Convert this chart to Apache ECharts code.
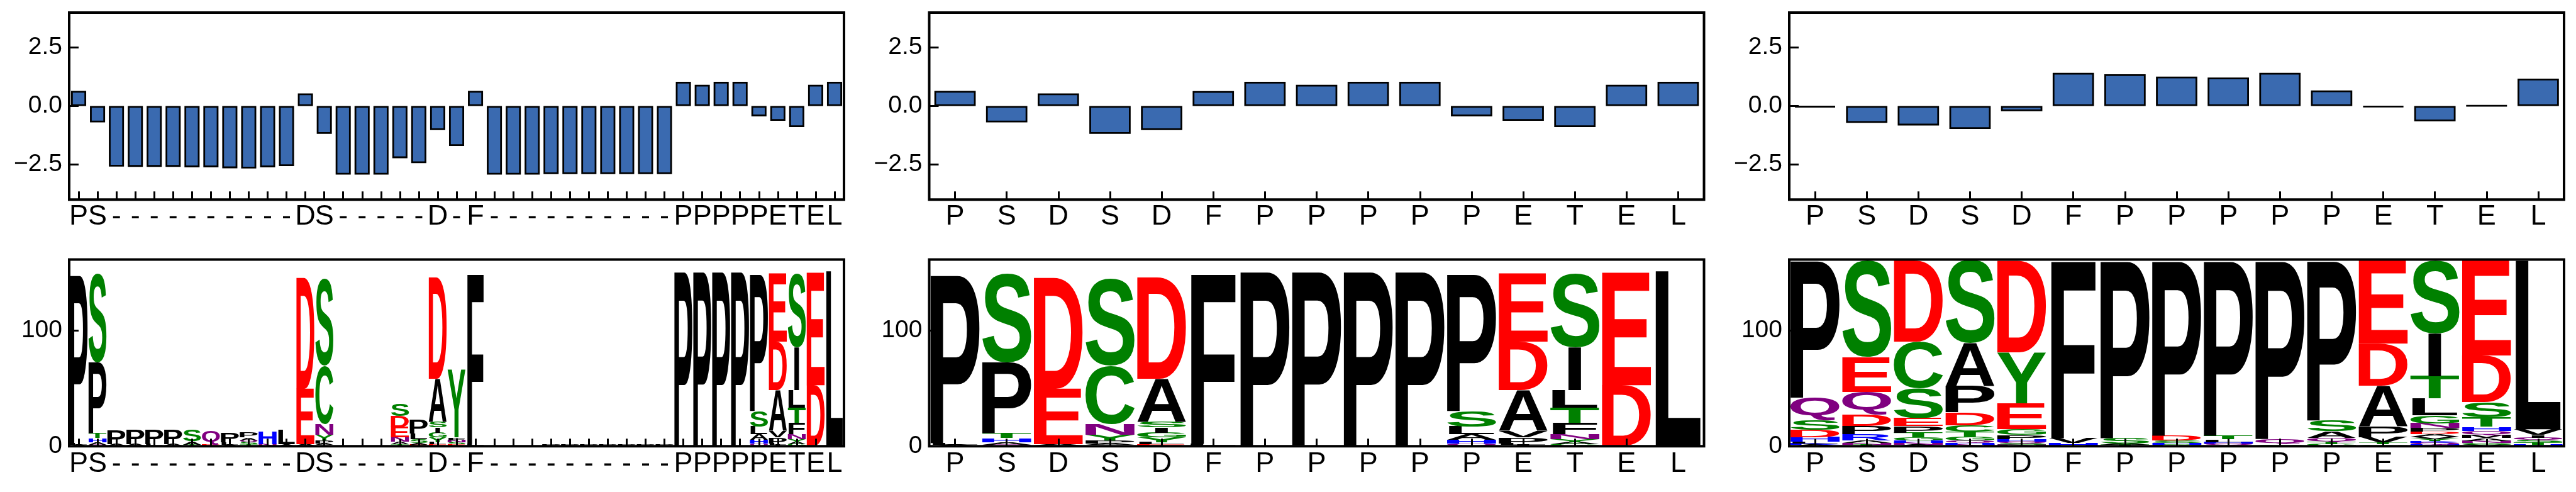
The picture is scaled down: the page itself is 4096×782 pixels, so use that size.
<!DOCTYPE html>
<html><head><meta charset="utf-8">
<script src="https://cdn.jsdelivr.net/npm/echarts@6/dist/echarts.min.js"></script>
<style>html,body{margin:0;padding:0;background:#fff;overflow:hidden}#c{width:4096px;height:782px}</style>
</head><body><div id="c"></div>
<script>
// ---------------- data ----------------
const catsA = ['P','S','-','-','-','-','-','-','-','-','-','-','D','S','-','-','-','-','-','D','-','F','-','-','-','-','-','-','-','-','-','-','P','P','P','P','P','E','T','E','L'];
const catsB = ['P','S','D','S','D','F','P','P','P','P','P','E','T','E','L'];
const catsC = ['P','S','D','S','D','F','P','P','P','P','P','E','T','E','L'];

const barsA = [0.65,-0.70,-2.59,-2.60,-2.60,-2.60,-2.62,-2.62,-2.66,-2.67,-2.62,-2.57,0.54,-1.19,-2.93,-2.93,-2.93,-2.23,-2.44,-1.03,-1.71,0.65,-2.93,-2.93,-2.93,-2.91,-2.91,-2.91,-2.91,-2.91,-2.91,-2.91,1.04,0.91,1.04,1.04,-0.44,-0.63,-0.90,0.91,1.04];
const barsB = [0.65,-0.70,0.54,-1.19,-1.03,0.64,1.04,0.91,1.04,1.04,-0.44,-0.63,-0.90,0.91,1.04];
const barsC = [-0.05,-0.72,-0.83,-0.98,-0.22,1.42,1.36,1.26,1.22,1.42,0.67,-0.04,-0.65,0.02,1.17];

const yTicksBar = [-2.5, 0, 2.5];
const yTicksLogo = [0, 100];

const logoA = [
  {P:146,L:1.5,A:1.2},
  {S:77,P:61.6,T:4.0,H:3.8,A:1.8,Q:1.5},
  {P:12.2,A:1.2,G:0.6},
  {P:12.4,A:1.0,T:0.6},
  {P:12.4,L:1.0,S:0.6},
  {P:12.4,A:1.0,E:0.6},
  {S:9.8,A:2.8,T:1.4},
  {Q:12.0,E:1.2},
  {P:8.4,L:2.0,A:1.2},
  {P:4.0,A:2.4,Q:2.0,S:1.8,T:1.5},
  {H:11.2,N:1.8},
  {L:12.4,A:1.6},
  {D:96.2,E:47.9,A:1.0,N:0.8},
  {S:75.1,C:50.4,N:9.1,Y:4.9,P:2.9,A:1.4,G:1.0},
  {},{},{},
  {S:10.5,D:9.8,E:8.7,N:3.9,A:2.4,T:1.6},
  {P:11.9,L:4.9,S:3.5,A:1.6,E:1.2},
  {D:87.7,A:37.4,S:5.0,I:4.4,G:4.2,Y:3.9,L:2.0,E:1.3,N:0.4},
  {Y:58.5,F:2.4,N:2.0,S:1.8,E:1.5},
  {F:147.6,L:1.2,V:0.9},
  {},{},{},
  {P:1.0},{P:1.0},{P:1.0},{P:1.0},{P:1.0},{P:1.0},{P:1.0},
  {P:151.8},
  {P:151.0,T:0.8},
  {P:151.8},
  {P:151.8},
  {P:118.8,S:13.4,L:6.6,A:4.9,H:3.5,Q:2.1},
  {E:59.4,D:42.1,A:35.3,V:5.6,P:5.2,L:1.4,I:1.1},
  {S:64.1,I:37.3,L:15.1,T:13.3,F:9.8,N:4.2,Y:2.8,A:1.8,G:1.7},
  {E:97.6,D:52.2,A:0.6},
  {L:151.8}
];
const logoB = [
  {P:146,L:1.5,A:1.2},
  {S:77,P:61.6,T:4.0,H:3.8,A:1.8,Q:1.5},
  {D:96.2,E:47.9,A:1.0,N:0.8},
  {S:75.1,C:50.4,N:9.1,Y:4.9,P:2.9,A:1.4,G:1.0},
  {D:87.7,A:37.4,S:5.0,I:4.4,G:4.2,Y:3.9,L:2.0,E:1.3,N:0.4},
  {F:147.6,L:1.2,V:0.9},
  {P:151.8},
  {P:151.0,T:0.8},
  {P:151.8},
  {P:151.8},
  {P:118.8,S:13.4,L:6.6,A:4.9,H:3.5,Q:2.1},
  {E:59.4,D:42.1,A:35.3,V:5.6,P:5.2,L:1.4,I:1.1},
  {S:64.1,I:37.3,L:15.1,T:13.3,F:9.8,N:4.2,Y:2.8,A:1.8,G:1.7},
  {E:97.6,D:52.2,A:0.6},
  {L:151.8}
];
const logoC = [
  {P:118.9,Q:19.6,S:8.4,D:6.0,H:4.2,L:1.6,K:1.2,A:1.0},
  {S:83.5,E:30.0,Q:19.9,D:9.8,P:7.0,R:5.6,A:2.0,N:1.5,T:1.4},
  {D:70.4,C:40.1,S:26.0,E:7.0,P:5.6,T:4.2,G:2.6,H:1.9,N:1.7,A:1.4},
  {S:71.4,A:37.3,P:22.8,D:11.2,C:5.6,T:4.2,G:3.5,Q:1.8,H:1.6,N:1.5},
  {D:79.7,Y:44.1,E:22.4,G:4.9,P:3.5,H:2.2,Q:1.6,S:1.4,N:1.1},
  {F:154.0,V:4.2,H:2.7},
  {P:153.9,S:4.6,A:1.4,T:1.0},
  {P:151.8,D:3.9,S:2.4,H:1.5,G:1.3},
  {P:151.8,T:3.2,L:2.3,H:1.5,Q:1.4,N:0.7},
  {P:154.6,Q:4.5,S:1.0,K:0.8},
  {P:138.5,S:9.4,A:5.6,Q:3.6,T:2.0,G:1.8},
  {E:72.3,D:36.4,A:35.0,P:9.2,V:4.8,T:1.4,G:1.0,S:0.8},
  {S:63.4,I:36.9,T:19.3,L:14.7,G:6.7,N:3.9,P:3.3,D:2.2,A:2.1,V:2.0,Y:1.9,K:1.6,Q:1.5,H:1.4},
  {E:82.5,D:40.2,S:13.0,T:8.4,H:3.8,Q:3.2,M:2.8,A:2.4,N:1.8,G:1.6,V:1.2},
  {L:146.2,V:4.9,I:2.4,Q:2.2,S:2.0,T:1.8,H:1.4}
];

// chemistry colour scheme
const letterColors = {A:'#000000',V:'#000000',L:'#000000',I:'#000000',P:'#000000',W:'#000000',F:'#000000',M:'#000000',
  G:'#008000',S:'#008000',T:'#008000',Y:'#008000',C:'#008000',N:'#800080',Q:'#800080',
  K:'#0000ff',R:'#0000ff',H:'#0000ff',D:'#ff0000',E:'#ff0000'};

// ---------------- layout ----------------
const FONT = 'Liberation Sans';
const LOGO_FONT = 'bold 200px "Liberation Sans"';
const gridLeft = [110, 1477.5, 2845];
const gridW = 1232;
const topRow = {top: 19.9, height: 297.3};
const botRow = {top: 412.5, height: 296.8};

const mctx = document.createElement('canvas').getContext('2d');
mctx.font = LOGO_FONT; mctx.textBaseline = 'middle'; mctx.textAlign = 'left';
const mcache = {};
function metrics(ch){
  if(!mcache[ch]){
    const m = mctx.measureText(ch);
    mcache[ch] = {l:m.actualBoundingBoxLeft, r:m.actualBoundingBoxRight, a:m.actualBoundingBoxAscent, d:m.actualBoundingBoxDescent};
  }
  return mcache[ch];
}

function stackItems(cols){
  const items = [];
  cols.forEach((col, i) => {
    const entries = Object.keys(col).map(k => [k, col[k]]).filter(e => e[1] > 0);
    entries.sort((a, b) => a[1] - b[1]);
    let y = 0;
    entries.forEach(e => { items.push({i: i, y0: y, y1: y + e[1], ch: e[0]}); y += e[1]; });
  });
  return items;
}

function logoSeries(cols, axisIdx){
  const items = stackItems(cols);
  return {
    type: 'custom', coordinateSystem: 'cartesian2d', xAxisIndex: axisIdx, yAxisIndex: axisIdx,
    silent: true, z: 2,
    encode: {x: 0, y: 1},
    data: items.map(it => [it.i, it.y0, it.y1]),
    renderItem: function(params, api){
      const it = items[params.dataIndex];
      const pB = api.coord([api.value(0), api.value(1)]);
      const pT = api.coord([api.value(0), api.value(2)]);
      const bw = api.size([1, 0])[0] * 0.95;
      const h = pB[1] - pT[1];
      if (h <= 0.05) return null;
      const m = metrics(it.ch);
      const mE = metrics('E');
      const inkW = m.l + m.r;
      // glyphs are not stretched horizontally more than 'E' would be
      const sx = Math.min(bw / inkW, bw / (mE.l + mE.r));
      const sy = h / (m.a + m.d);
      return {
        type: 'text', silent: true,
        x: pB[0] - inkW * sx / 2 + m.l * sx, y: pT[1] + m.a * sy, scaleX: sx, scaleY: sy,
        style: {text: it.ch, font: LOGO_FONT, fill: letterColors[it.ch], align: 'left', verticalAlign: 'middle', legacy: false}
      };
    }
  };
}

const grids = [], xAxes = [], yAxes = [], series = [];
const cats = [catsA, catsB, catsC];
const bars = [barsA, barsB, barsC];
const logos = [logoA, logoB, logoC];

function fmtBar(v){ if (Math.abs(v) < 1e-9) return '0.0'; return (v < 0 ? '\u2212' : '') + Math.abs(v).toFixed(1); }

for (let r = 0; r < 2; r++) {
  for (let c = 0; c < 3; c++) {
    const idx = r * 3 + c;
    const row = r === 0 ? topRow : botRow;
    grids.push({left: gridLeft[c], top: row.top, width: gridW, height: row.height,
      show: true, borderColor: '#000', borderWidth: 4, backgroundColor: 'transparent', z: 5, containLabel: false, outerBoundsMode: 'none'});
    xAxes.push({type: 'category', gridIndex: idx, data: cats[c], z: 10, position: 'bottom',
      axisLine: {show: false, onZero: false},
      axisTick: {show: true, inside: true, alignWithLabel: true, length: r === 0 ? 13 : 12, lineStyle: {color: '#000', width: 3}},
      axisLabel: {interval: 0, hideOverlap: false, fontFamily: FONT, fontSize: 45, color: '#000', margin: r === 0 ? 5 : 6},
      splitLine: {show: false}});
    if (r === 0) {
      yAxes.push({type: 'value', gridIndex: idx, min: -4, max: 4, z: 10,
        axisLine: {show: false, onZero: false}, splitLine: {show: false},
        axisTick: {show: true, inside: true, length: 15, customValues: yTicksBar, lineStyle: {color: '#000', width: 3}},
        axisLabel: {customValues: yTicksBar, formatter: fmtBar, fontFamily: FONT, fontSize: 39, color: '#000', margin: 11}});
      series.push({type: 'bar', xAxisIndex: idx, yAxisIndex: idx, data: bars[c], barWidth: '80%',
        itemStyle: {color: '#3a6ab0', borderColor: '#000', borderWidth: 2.8}});
    } else {
      yAxes.push({type: 'value', gridIndex: idx, min: 0, max: 161.5, z: 10,
        axisLine: {show: false, onZero: false}, splitLine: {show: false},
        axisTick: {show: true, inside: true, length: 15, customValues: yTicksLogo, lineStyle: {color: '#000', width: 3}},
        axisLabel: {customValues: yTicksLogo, formatter: v => String(Math.round(v)), fontFamily: FONT, fontSize: 39, color: '#000', margin: 11}});
      series.push(logoSeries(logos[c], idx));
    }
  }
}

const chart = echarts.init(document.getElementById('c'), null, {renderer: 'canvas', width: 4096, height: 782});
chart.setOption({animation: false, backgroundColor: '#fff', grid: grids, xAxis: xAxes, yAxis: yAxes, series: series});
</script></body></html>
